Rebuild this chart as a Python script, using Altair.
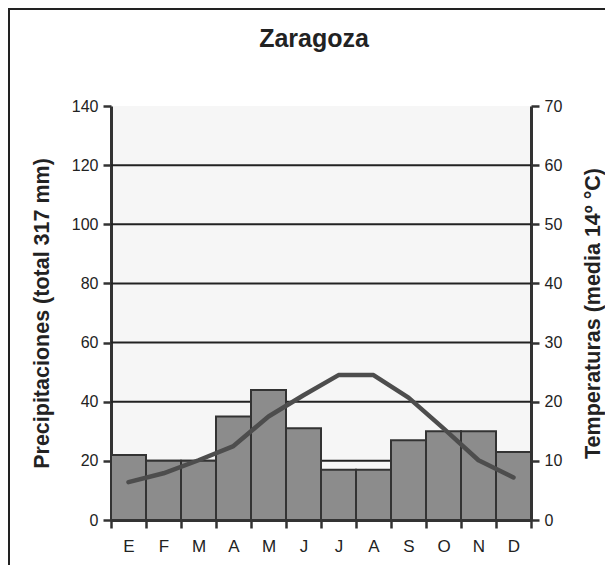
import altair as alt
import pandas as pd

months = ["E", "F", "M", "A", "M ", "J", "J ", "A ", "S", "O", "N", "D"]
precip = [22, 20, 20, 35, 44, 31, 17, 17, 27, 30, 30, 23]
temp = [6.4, 7.9, 10.1, 12.5, 17.5, 21.1, 24.5, 24.5, 20.7, 15.5, 10.1, 7.2]
grid_values = [20, 40, 60, 80, 100, 120]

df = pd.DataFrame({"mes": months, "precip": precip, "temp": temp})

FONT = "Liberation Sans"

xenc = alt.X(
    "mes:N",
    sort=months,
    scale=alt.Scale(paddingInner=0, paddingOuter=0),
    axis=alt.Axis(
        title=None,
        tickBand="extent",
        tickSize=8,
        tickWidth=2.5,
        tickColor="#333333",
        domainColor="#333333",
        domainWidth=3,
        labelFont=FONT,
        labelFontSize=17,
        labelColor="#222222",
        labelPadding=10,
        labelAngle=0,
        labelExpr="trim(datum.label)",
    ),
)

left_axis = alt.Axis(
    title="Precipitaciones (total 317 mm)",
    values=[0, 20, 40, 60, 80, 100, 120, 140],
    grid=False,
    tickSize=8,
    tickWidth=2.5,
    tickColor="#333333",
    domainColor="#333333",
    domainWidth=3,
    labelFont=FONT,
    labelFontSize=16,
    labelColor="#222222",
    labelPadding=5,
    titleFont=FONT,
    titleFontSize=21.5,
    titleFontWeight="bold",
    titleColor="#222222",
    titleAngle=270,
    titleX=-69,
    titleBaseline="middle",
)

yscale = alt.Scale(domain=[0, 140], nice=False)

gridlines = alt.Chart(pd.DataFrame({"g": grid_values})).mark_rule(
    color="#222222", strokeWidth=2
).encode(
    y=alt.Y("g:Q", scale=yscale, axis=left_axis),
)

bars = alt.Chart(df).mark_bar(
    color="#8c8c8c", stroke="#333333", strokeWidth=2
).encode(
    x=xenc,
    y=alt.Y("precip:Q", scale=yscale, axis=left_axis),
)

line = alt.Chart(df).mark_line(
    color="#4d4d4d", strokeWidth=4.5, strokeCap="round", strokeJoin="round"
).encode(
    x=alt.X("mes:N", sort=months),
    y=alt.Y(
        "temp:Q",
        scale=alt.Scale(domain=[0, 70], nice=False),
        axis=alt.Axis(
            orient="right",
            title="Temperaturas (media 14º °C)",
            values=[0, 10, 20, 30, 40, 50, 60, 70],
            grid=False,
            tickSize=8,
            tickWidth=2.5,
            tickColor="#333333",
            domainColor="#333333",
            domainWidth=3,
            labelFont=FONT,
            labelFontSize=16,
            labelColor="#222222",
            labelPadding=5,
            titleFont=FONT,
            titleFontSize=21.5,
            titleFontWeight="bold",
            titleColor="#222222",
            titleAngle=270,
            titleX=62,
            titleBaseline="middle",
        ),
    ),
)

frame = alt.Chart(pd.DataFrame({"f": [0]})).mark_rect(
    fillOpacity=0, stroke="#222222", strokeWidth=2
).encode(
    x=alt.value(-102), x2=alt.value(700), y=alt.value(-97), y2=alt.value(700)
)

left = alt.layer(gridlines, bars)

chart = (
    alt.layer(left, line, frame)
    .resolve_scale(y="independent")
    .properties(
        width=420,
        height=414,
        title=alt.TitleParams(
            "Zaragoza",
            font=FONT,
            fontSize=25,
            fontWeight="bold",
            color="#222222",
            anchor="middle",
            offset=-44,
            dx=-7,
        ),
        autosize=alt.AutoSizeParams(type="none"),
        padding={"left": 103, "top": 98, "right": 74, "bottom": 45},
        background="white",
    )
    .configure_view(fill="#f6f6f6", stroke=None)
)

chart.save("out.html", embed_options={"renderer": "svg", "actions": False})
